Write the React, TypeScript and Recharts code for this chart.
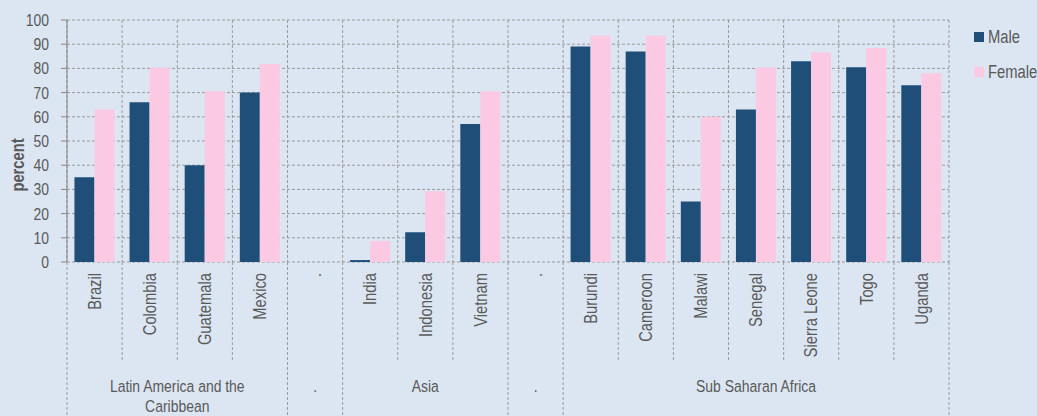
import { BarChart, Bar, XAxis, YAxis, CartesianGrid } from "recharts";

const categories = [
  "Brazil", "Colombia", "Guatemala", "Mexico", ".",
  "India", "Indonesia", "Vietnam", ".",
  "Burundi", "Cameroon", "Malawi", "Senegal", "Sierra Leone", "Togo", "Uganda",
];
const male = [35, 66, 40, 70, null, 0.8, 12.3, 57, null, 89, 87, 25, 63, 83, 80.5, 73];
const female = [63, 80.3, 70.6, 81.8, null, 8.7, 29.2, 70.5, null, 93.5, 93.5, 60, 80.4, 86.6, 88.4, 78];
const groupLabels = [["Latin America and the", "Caribbean"], ["."], ["Asia"], ["."], ["Sub Saharan Africa"]];
const groupSizes = [4, 1, 3, 1, 7];
const yTicks = [0, 10, 20, 30, 40, 50, 60, 70, 80, 90, 100];

const series = [
  { key: "male", name: "Male", color: "#1F4E79" },
  { key: "female", name: "Female", color: "#FCC9E3" },
];

const data = categories.map((c, i) => ({ name: c, male: male[i], female: female[i] }));

const W = 1037;
const H = 416;
const TOP = 20;
const RIGHT = 88;
const Y_W = 67;
const X_H = 154;
const PLOT_W = W - RIGHT - Y_W;
const BW = PLOT_W / categories.length;
const TEXT = "#595959";
const LINE = "#9a9a9a";
const FONT = "'Liberation Sans', Arial, sans-serif";
const NARROW = 0.82; // no Arial Narrow installed, squeeze Liberation Sans instead

// start index of each group
const groupStarts = groupSizes.reduce<number[]>((acc, s, i) => {
  acc.push(i === 0 ? 0 : acc[i - 1] + groupSizes[i - 1]);
  return acc;
}, []);

function NarrowText({ x, y, angle = 0, size = 17, anchor = "middle", bold = false, children }: any) {
  return (
    <text
      x={0}
      y={0}
      dy="0.35em"
      transform={`translate(${x} ${y}) rotate(${angle}) scale(${NARROW} 1)`}
      textAnchor={anchor}
      fill={TEXT}
      fontSize={size}
      fontWeight={bold ? "bold" : "normal"}
      fontFamily={FONT}
    >
      {children}
    </text>
  );
}

function CategoryTick(props: any) {
  const { x, y, payload, index } = props;
  const left = x - BW / 2;
  const g = groupStarts.indexOf(index);
  const isLast = index === categories.length - 1;
  return (
    <g>
      <line x1={left} x2={left} y1={y} y2={g >= 0 ? H : y + 100} stroke={LINE} strokeDasharray="3 2" />
      {isLast && <line x1={x + BW / 2} x2={x + BW / 2} y1={y} y2={H} stroke={LINE} strokeDasharray="3 2" />}
      <NarrowText x={x} y={y + 11} angle={-90} size={18} anchor="end">
        {payload.value}
      </NarrowText>
      {g >= 0 &&
        groupLabels[g].map((line, k) => (
          <NarrowText key={k} x={left + (groupSizes[g] * BW) / 2} y={y + 124 + k * 20} size={17}>
            {line}
          </NarrowText>
        ))}
    </g>
  );
}

function ValueTick(props: any) {
  const { x, y, payload } = props;
  return (
    <NarrowText x={x} y={y} anchor="end" size={17}>
      {payload.value}
    </NarrowText>
  );
}

export default function App() {
  return (
    <div style={{ position: "relative", width: W, height: H, background: "#DCE6F2" }}>
      <style>{"body{margin:0;background:#DCE6F2}"}</style>
      <BarChart
        width={W}
        height={H}
        data={data}
        margin={{ top: TOP, right: RIGHT, bottom: 0, left: 0 }}
        barCategoryGap="13.5%"
        barGap={0}
      >
        <CartesianGrid
          stroke={LINE}
          strokeDasharray="3 2"
          verticalCoordinatesGenerator={({ offset }: any) =>
            Array.from({ length: categories.length + 1 }, (_, i) => offset.left + (i * offset.width) / categories.length)
          }
        />
        <XAxis
          dataKey="name"
          height={X_H}
          interval={0}
          tickSize={0}
          tickMargin={0}
          tickLine={false}
          axisLine={false}
          tick={<CategoryTick />}
        />
        <YAxis
          width={Y_W}
          domain={[0, 100]}
          ticks={yTicks}
          interval={0}
          tickSize={6}
          tickMargin={12}
          axisLine={{ stroke: "#868686" }}
          tickLine={{ stroke: "#868686" }}
          tick={<ValueTick />}
          label={() => (
            <NarrowText x={18} y={165} angle={-90} size={18} bold>
              percent
            </NarrowText>
          )}
        />
        {series.map((s) => (
          <Bar key={s.key} dataKey={s.key} name={s.name} fill={s.color} isAnimationActive={false} />
        ))}
      </BarChart>
      <div style={{ position: "absolute", left: 974, top: 28, fontFamily: FONT, fontSize: 18, color: TEXT }}>
        {series.map((s) => (
          <div key={s.key} style={{ display: "flex", alignItems: "center", height: 18, marginBottom: 17, whiteSpace: "nowrap" }}>
            <span style={{ display: "inline-block", width: 10, height: 10, background: s.color, marginRight: 4 }} />
            <span style={{ display: "inline-block", transform: `scaleX(${NARROW})`, transformOrigin: "left center" }}>
              {s.name}
            </span>
          </div>
        ))}
      </div>
    </div>
  );
}
